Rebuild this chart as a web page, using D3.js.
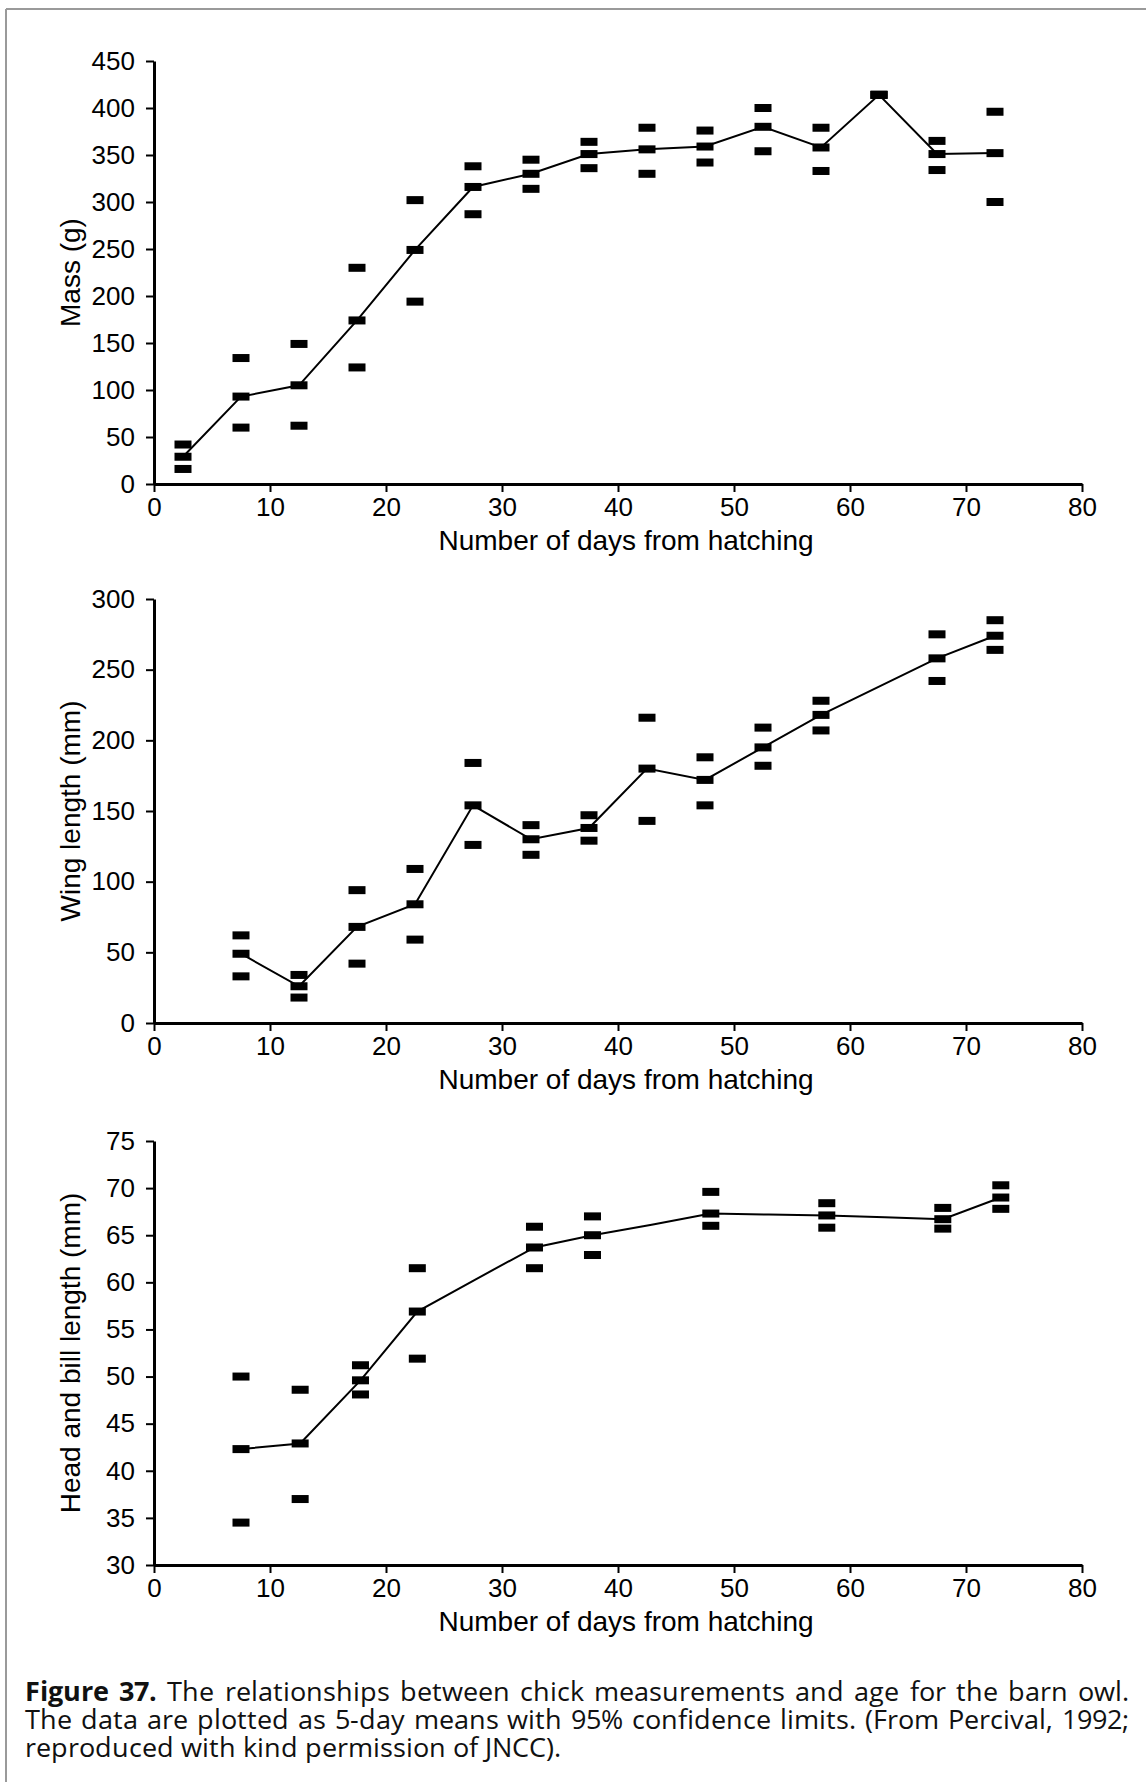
<!DOCTYPE html>
<html><head><meta charset="utf-8">
<script src="https://cdn.jsdelivr.net/npm/d3@7"></script>
<style>
@font-face{font-family:'CapSans';font-weight:400;src:local('Open Sans'),local('OpenSans-Regular'),local('Open Sans Regular');
  ascent-override:80%;descent-override:22%;line-gap-override:0%}
@font-face{font-family:'CapSans';font-weight:700;src:local('Open Sans Bold'),local('OpenSans-Bold');
  ascent-override:80%;descent-override:22%;line-gap-override:0%}
body{margin:0;background:#fff;position:relative;width:1146px;height:1782px;overflow:hidden}
svg{display:block;position:absolute;left:0;top:0}
.cap{position:absolute;left:25px;width:1104px;height:28px;line-height:28px;white-space:nowrap;overflow:visible;
  font-family:'CapSans','Open Sans','Noto Sans',sans-serif;font-size:26.5px;color:#111}
.cap.j{text-align:justify;text-align-last:justify;white-space:normal}
.cap b{font-weight:700}
</style>
</head><body>
<svg id="c" width="1146" height="1782"></svg>
<div id="caption"></div>
<script>
// ---------- data ----------
const xTicks = [0,10,20,30,40,50,60,70,80];
const xLabel = "Number of days from hatching";

const massDays  = [2.5,7.5,12.5,17.5,22.5,27.5,32.5,37.5,42.5,47.5,52.5,57.5,62.5,67.5,72.5];
const massMean  = [29, 93,105,174,249,316,330,351,356,359,380,358,414,351,352];
const massUpper = [42,134,149,230,302,338,345,364,379,376,400,379,414,365,396];
const massLower = [16, 60, 62,124,194,287,314,336,330,342,354,333,414,334,300];
const massTicks = [0,50,100,150,200,250,300,350,400,450];

const wingDays  = [7.5,12.5,17.5,22.5,27.5,32.5,37.5,42.5,47.5,52.5,57.5,67.5,72.5];
const wingMean  = [49,26,68, 84,154,130,138,180,172,195,218,258,274];
const wingUpper = [62,34,94,109,184,140,147,216,188,209,228,275,285];
const wingLower = [33,18,42, 59,126,119,129,143,154,182,207,242,264];
const wingTicks = [0,50,100,150,200,250,300];

const headDays  = [7.5,12.6,17.8,22.7,27.7,32.8,37.8,42.9,48.0,53.0,58.0,63.0,68.0,73.0];
const headMean  = [42.3,42.9,49.6,56.9,60.3,63.7,65.0,66.1,67.3,67.2,67.1,66.9,66.7,69.0];
const headUpper = [50.0,48.6,51.2,61.5,null,65.9,67.0,null,69.6,null,68.4,null,67.9,70.3];
const headLower = [34.5,37.0,48.1,51.9,null,61.5,62.9,null,66.0,null,65.8,null,65.7,67.8];
const headTicks = [30,35,40,45,50,55,60,65,70,75];

const captionBold = "Figure 37.";
const captionLines = [
  " The relationships between chick measurements and age for the barn owl.",
  "The data are plotted as 5-day means with 95% confidence limits. (From Percival, 1992;",
  "reproduced with kind permission of JNCC)."
];

// ---------- layout ----------
const svg = d3.select("#c");
const X0 = 154, X1 = 1082;
const x = d3.scaleLinear().domain([0,80]).range([X0,X1]);
const chartFont = "'Liberation Sans', Arial, Helvetica, sans-serif";

// border (top and left)
svg.append("line").attr("x1",6).attr("x2",1146).attr("y1",9).attr("y2",9)
  .attr("stroke","#9a9a9a").attr("stroke-width",2);
svg.append("line").attr("x1",6).attr("x2",6).attr("y1",9).attr("y2",1782)
  .attr("stroke","#9a9a9a").attr("stroke-width",2);

function panel(cfg){
  const y = d3.scaleLinear().domain(cfg.domain).range([cfg.bottom, cfg.top]);
  const g = svg.append("g");
  const ax = g.append("g").attr("transform",`translate(0,${cfg.bottom})`)
    .call(d3.axisBottom(x).tickValues(xTicks).tickSize(8).tickSizeOuter(0).tickPadding(5.5));
  const ay = g.append("g").attr("transform",`translate(${X0},0)`)
    .call(d3.axisLeft(y).tickValues(cfg.ticks).tickSize(8).tickSizeOuter(0).tickPadding(11));
  [ax,ay].forEach(a=>{
    a.attr("font-family",chartFont).attr("font-size",26);
    a.select(".domain").attr("stroke","#000").attr("stroke-width",3);
    a.selectAll(".tick line").attr("stroke","#000").attr("stroke-width",2);
    a.selectAll(".tick text").attr("fill","#000");
  });

  const pts = cfg.days.map((d,i)=>({day:d, mean:cfg.mean[i], up:cfg.upper[i], lo:cfg.lower[i]}));
  g.append("path").datum(pts)
    .attr("fill","none").attr("stroke","#000").attr("stroke-width",2)
    .attr("d", d3.line().x(d=>x(d.day)).y(d=>y(d.mean)));

  const marks = [];
  pts.filter(d=>d.up!=null).forEach(d=>{
    marks.push({day:d.day, v:d.up}, {day:d.day, v:d.mean}, {day:d.day, v:d.lo});
  });
  const mw = 17, mh = 8;
  g.selectAll("rect.m").data(marks).join("rect").attr("class","m")
    .attr("x", d=>x(d.day)-mw/2).attr("y", d=>y(d.v)-mh/2)
    .attr("width", mw).attr("height", mh).attr("fill","#000");

  g.append("text").attr("x",626).attr("y",cfg.bottom+66)
    .attr("text-anchor","middle").attr("font-family",chartFont).attr("font-size",28)
    .attr("fill","#000").text(xLabel);
  g.append("text").attr("transform",`translate(80,${(cfg.top+cfg.bottom)/2}) rotate(-90)`)
    .attr("text-anchor","middle").attr("font-family",chartFont).attr("font-size",28)
    .attr("fill","#000").text(cfg.ylabel);
}

panel({days:massDays, mean:massMean, upper:massUpper, lower:massLower,
  domain:[0,450], ticks:massTicks, top:61, bottom:484, ylabel:"Mass (g)"});
panel({days:wingDays, mean:wingMean, upper:wingUpper, lower:wingLower,
  domain:[0,300], ticks:wingTicks, top:599, bottom:1023, ylabel:"Wing length (mm)"});
panel({days:headDays, mean:headMean, upper:headUpper, lower:headLower,
  domain:[30,75], ticks:headTicks, top:1141, bottom:1565, ylabel:"Head and bill length (mm)"});

// caption (HTML block lines at the reference's tight leading; first two justified)
const capBase = [1701, 1729, 1757];
const cap = d3.select("#caption");
const divs = captionLines.map((t,i)=>{
  const div = cap.append("div").attr("class", i<2 ? "cap j" : "cap").style("top", "0px");
  if (i===0) div.append("b").text(captionBold);
  div.node().appendChild(document.createTextNode(t));
  return div;
});
// place each line so its baseline sits at capBase (measured from a zero-size inline probe)
divs.forEach((div,i)=>{
  const probe = document.createElement("span");
  probe.style.cssText = "display:inline-block;width:0;height:0;vertical-align:baseline";
  div.node().appendChild(probe);
  const base = probe.getBoundingClientRect().top - div.node().getBoundingClientRect().top;
  probe.remove();
  div.style("top", (capBase[i]-base)+"px");
});
</script>
</body></html>
